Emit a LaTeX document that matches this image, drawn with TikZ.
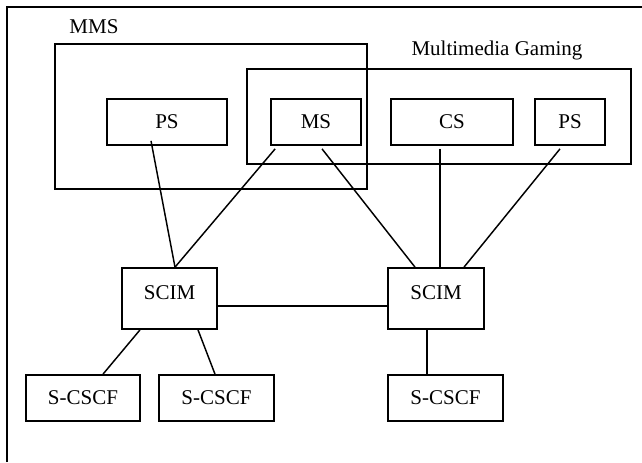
\documentclass[tikz,border=0pt]{standalone}
\usepackage{fontspec}
\setmainfont{Liberation Serif}
\usetikzlibrary{calc}
\begin{document}
\begin{tikzpicture}[x=0.75pt,y=-0.75pt,
  box/.style={draw,line width=1.3pt,inner sep=0pt,font=\fontsize{15.75}{18}\selectfont},
  tall/.style={box,text height=11.25pt,text depth=10.5pt},
  lbl/.style={inner sep=0pt,font=\fontsize{15.75}{18}\selectfont},
  conn/.style={line width=1.1pt}]
\useasboundingbox (0,0) rectangle (642,462);
\draw[line width=1.4pt] (7,462) -- (7,7) -- (642,7);
% group boxes
\node[box,minimum width=234pt,minimum height=108.75pt] (mmsbox) at (211,116.5) {};
\node[box,minimum width=288pt,minimum height=71.25pt] (mgbox) at (439,116.5) {};
\node[lbl] (mmslbl) at (94,27) {MMS};
\node[lbl] (mglbl) at (497,50) {Multimedia Gaming};
% servers
\node[box,minimum width=90pt,minimum height=34.5pt] (psl) at (167,122) {PS};
\node[box,minimum width=67.5pt,minimum height=34.5pt] (ms) at (316,122) {MS};
\node[box,minimum width=91.5pt,minimum height=34.5pt] (cs) at (452,122) {CS};
\node[box,minimum width=52.5pt,minimum height=34.5pt] (psr) at (570,122) {PS};
% SCIMs
\node[tall,minimum width=71.25pt,minimum height=45.75pt] (scim1) at (169.5,298.5) {SCIM};
\node[tall,minimum width=72pt,minimum height=45.75pt] (scim2) at (436,298.5) {SCIM};
% S-CSCFs
\node[box,minimum width=85.5pt,minimum height=34.5pt] (sc1) at (83,398) {S-CSCF};
\node[box,minimum width=86.25pt,minimum height=34.5pt] (sc2) at (216.5,398) {S-CSCF};
\node[box,minimum width=86.25pt,minimum height=34.5pt] (sc3) at (445.5,398) {S-CSCF};
% connectors
\draw[conn] ($(psl.south)+(-16,-5)$) -- ($(scim1.north)+(5.5,0)$);
\draw[conn] ($(ms.south west)+(5,3)$) -- ($(scim1.north)+(5.5,0)$);
\draw[conn] ($(ms.south)+(6,3)$) -- ($(scim2.north)+(-21,0)$);
\draw[conn] ($(cs.south)+(-12,3)$) -- ($(scim2.north)+(4,0)$);
\draw[conn] ($(psr.south)+(-10,3)$) -- ($(scim2.north)+(28,0)$);
\draw[conn] ($(scim1.east)+(0,7.5)$) -- ($(scim2.west)+(0,7.5)$);
\draw[conn] ($(scim1.south)+(-29.5,0)$) -- ($(sc1.north)+(20,0)$);
\draw[conn] ($(scim1.south)+(28.5,0)$) -- ($(sc2.north)+(-1.5,0)$);
\draw[conn] ($(scim2.south)+(-9,0)$) -- ($(sc3.north)+(-18.5,0)$);
\end{tikzpicture}
\end{document}
